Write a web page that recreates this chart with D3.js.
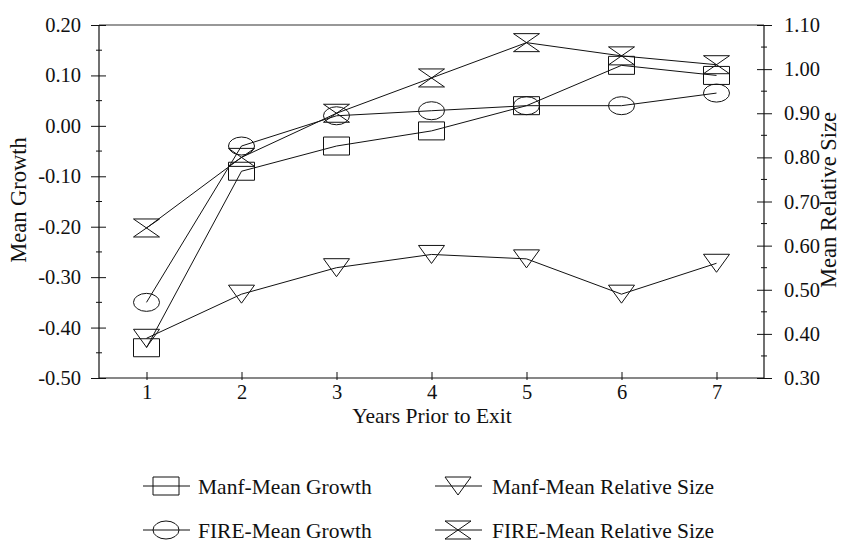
<html>
<head>
  <meta charset="utf-8">
  <title>Mean growth and relative size prior to exit</title>
  <script src="https://d3js.org/d3.v7.min.js"></script>
  <style>
    body { margin: 0; background: #fff; }
    text { font-family: "Liberation Serif", "Times New Roman", serif; fill: #111; }
  </style>
</head>
<body>
  <script>
    const years = [1, 2, 3, 4, 5, 6, 7];
    const manfGrowth = [-0.44, -0.09, -0.04, -0.01, 0.04, 0.12, 0.10];
    const fireGrowth = [-0.35, -0.04, 0.02, 0.03, 0.04, 0.04, 0.065];
    const manfSize = [0.39, 0.49, 0.55, 0.58, 0.57, 0.49, 0.56];
    const fireSize = [0.64, 0.80, 0.90, 0.98, 1.06, 1.03, 1.01];
    const leftTicks = d3.range(-5, 3).map(i => i / 10);
    const rightTicks = d3.range(3, 12).map(i => i / 10);
    const legendNames = ["Manf-Mean Growth", "FIRE-Mean Growth", "Manf-Mean Relative Size", "FIRE-Mean Relative Size"];

    const width = 841, height = 542;
    const plotL = 99, plotR = 764, plotT = 25, plotB = 378;

    const svg = d3.select("body").append("svg").attr("width", width).attr("height", height);

    const x = d3.scaleLinear().domain([0.5, 7.5]).range([plotL, plotR]);
    const yL = d3.scaleLinear().domain([-0.5, 0.2]).range([plotB, plotT]);
    const yR = d3.scaleLinear().domain([0.3, 1.1]).range([plotB, plotT]);

    // marker shapes, centred at 0,0
    const w = 13, h = 9;
    const shapes = {
      square: `M${-w},${-h}H${w}V${h}H${-w}Z`,
      circle: null,
      triangle: `M${-w},${-h}H${w}L0,${h}Z`,
      hourglass: `M${-w},${-h}H${w}L${-w},${h}H${w}Z`
    };

    const series = [
      { name: legendNames[0], vals: manfGrowth, y: yL, shape: "square" },
      { name: legendNames[1], vals: fireGrowth, y: yL, shape: "circle" },
      { name: legendNames[2], vals: manfSize, y: yR, shape: "triangle" },
      { name: legendNames[3], vals: fireSize, y: yR, shape: "hourglass" }
    ];

    function marker(g, shape) {
      if (shape === "circle") {
        g.append("ellipse").attr("rx", w).attr("ry", h);
      } else {
        g.append("path").attr("d", shapes[shape]);
      }
      g.selectAll("path,ellipse").attr("fill", "none").attr("stroke", "#111").attr("stroke-width", 1);
    }

    // frame top line
    svg.append("line").attr("x1", plotL).attr("x2", plotR).attr("y1", plotT).attr("y2", plotT)
      .attr("stroke", "#333").attr("stroke-width", 1.2);

    // left axis
    const gL = svg.append("g").attr("transform", `translate(${plotL},0)`)
      .call(d3.axisLeft(yL).tickValues(leftTicks).tickSize(8).tickPadding(10).tickFormat(d => d.toFixed(2)));
    gL.selectAll(".tick line").attr("x2", 7).attr("x1", -8);
    gL.append("g").selectAll("line").data(leftTicks.slice(0, -1).map(d => d + 0.05)).join("line")
      .attr("x1", -3).attr("x2", 3).attr("y1", d => yL(d)).attr("y2", d => yL(d)).attr("stroke", "#111");

    // right axis
    const gR = svg.append("g").attr("transform", `translate(${plotR},0)`)
      .call(d3.axisRight(yR).tickValues(rightTicks).tickSize(8).tickPadding(12).tickFormat(d => d.toFixed(2)));
    gR.selectAll(".tick line").attr("x2", 8).attr("x1", -7);
    gR.append("g").selectAll("line").data(rightTicks.slice(0, -1).map(d => d + 0.05)).join("line")
      .attr("x1", -3).attr("x2", 3).attr("y1", d => yR(d)).attr("y2", d => yR(d)).attr("stroke", "#111");

    // bottom axis
    const gX = svg.append("g").attr("transform", `translate(0,${plotB})`)
      .call(d3.axisBottom(x).tickValues(years).tickSize(2).tickFormat(d3.format("d")));
    gX.selectAll(".tick line").attr("y1", -6);
    gX.selectAll(".tick text").attr("y", 21).attr("dy", 0);

    [gL, gR, gX].forEach(g => {
      g.select(".domain").attr("stroke", "#111").attr("stroke-width", 1.2);
      g.selectAll(".tick line").attr("stroke", "#111");
      g.selectAll("text").attr("font-size", 20.5).attr("fill", "#111")
        .attr("font-family", "'Liberation Serif', 'Times New Roman', serif");
    });
    gL.select(".domain").attr("d", `M0,${plotB}V${plotT}`);
    gR.select(".domain").attr("d", `M0,${plotB}V${plotT}`);
    gX.select(".domain").attr("d", `M${plotL},0H${plotR}`);

    // axis titles
    svg.append("text").attr("x", 432).attr("y", 423).attr("text-anchor", "middle")
      .attr("font-size", 21.5).text("Years Prior to Exit");
    svg.append("text").attr("transform", "translate(26,200) rotate(-90)").attr("text-anchor", "middle")
      .attr("font-size", 22.5).text("Mean Growth");
    svg.append("text").attr("transform", "translate(836,200) rotate(-90)").attr("text-anchor", "middle")
      .attr("font-size", 22.5).text("Mean Relative Size");

    // lines and markers
    series.forEach(s => {
      const pts = years.map((yr, i) => [x(yr), s.y(s.vals[i])]);
      svg.append("path").attr("d", d3.line()(pts))
        .attr("fill", "none").attr("stroke", "#111").attr("stroke-width", 1);
      pts.forEach(p => {
        const g = svg.append("g").attr("transform", `translate(${p[0]},${p[1]})`);
        marker(g, s.shape);
      });
    });

    // legend
    const legendPos = [[166, 486], [166, 530], [458, 486], [458, 530]];
    series.forEach((s, i) => {
      const [cx, cy] = legendPos[i];
      const g = svg.append("g").attr("transform", `translate(${cx},${cy})`);
      g.append("line").attr("x1", -23).attr("x2", 24).attr("stroke", "#111").attr("stroke-width", 1);
      marker(g, s.shape);
      svg.append("text").attr("x", cx + (i < 2 ? 32 : 34)).attr("y", cy + 7.5)
        .attr("font-size", 21.5).text(s.name);
    });
  </script>
</body>
</html>
